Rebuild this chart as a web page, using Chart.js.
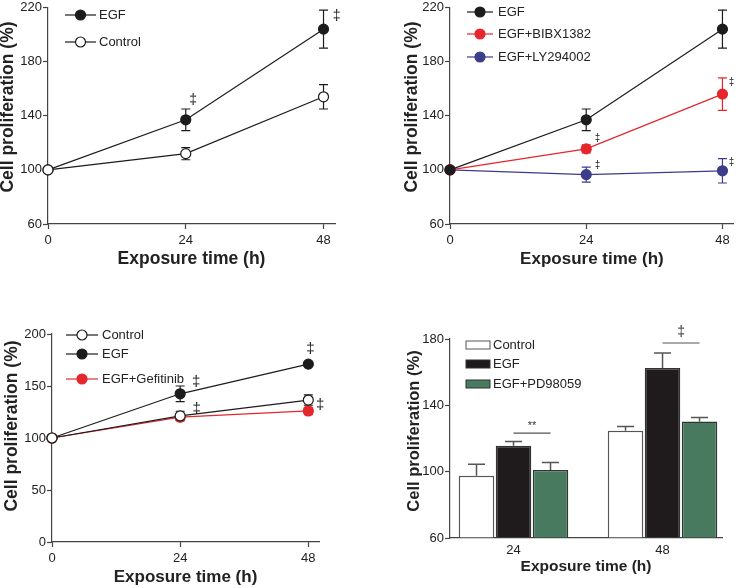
<!DOCTYPE html>
<html>
<head>
<meta charset="utf-8">
<script src="https://cdn.jsdelivr.net/npm/chart.js@4.4.1/dist/chart.umd.min.js"></script>
<style>
  body { margin: 0; background: #fff; }
  #wrap { position: relative; width: 740px; height: 588px; overflow: hidden; }
  canvas { position: absolute; }
</style>
</head>
<body>
<div id="wrap">
  <canvas id="chartA" width="370" height="290" style="left:0;top:0"></canvas>
  <canvas id="chartB" width="370" height="290" style="left:370px;top:0"></canvas>
  <canvas id="chartC" width="370" height="298" style="left:0;top:290px"></canvas>
  <canvas id="chartD" width="370" height="298" style="left:370px;top:290px"></canvas>
</div>
<script>
// ============================================================================
// DATA
// ============================================================================
const hours = [0, 24, 48];
const xTickVals = [0, 24, 48];

// panel A : EGF vs control
const aEgf = [100, 137, 204];
const aEgfErr = [0, 8, 14];
const aCtrl = [100, 112, 154];
const aCtrlErr = [0, 4.5, 9];
const aYTicks = [60, 100, 140, 180, 220];
const aMarks = [[25.3, 151.5], [50.3, 213.5]];

// panel B : inhibitors
const bEgf = [100, 137, 204];
const bEgfErr = [0, 8, 14];
const bBibx = [100, 115.5, 156];
const bBibxErr = [0, 3, 12];
const bLy = [100, 96.5, 99.3];
const bLyErr = [0, 5.5, 9];
const bYTicks = [60, 100, 140, 180, 220];
const bMarks = [[26, 123.4], [26, 103.2], [49.6, 164.9], [49.6, 105.4]];

// panel C : gefitinib
const cCtrl = [100, 121.2, 136.5];
const cCtrlErr = [0, 4.5, 5];
const cEgf = [100, 142.5, 171];
const cEgfErr = [0, 7.5, 1.5];
const cGef = [100, 120, 126];
const cGefErr = [0, 3, 3.5];
const cYTicks = [0, 50, 100, 150, 200];
const cMarks = [[27, 154.1], [27.1, 127.9], [48.4, 185.6], [50.2, 131.7]];

// panel D : PD98059 (bars)
const dGroups = [24, 48];
const dCtrl = [97.5, 124.7];
const dCtrlErr = [7, 2.5];
const dEgf = [115.7, 162.5];
const dEgfErr = [2.5, 9];
const dPd = [101, 130.2];
const dPdErr = [4.5, 2.5];
const dYTicks = [60, 100, 140, 180];
const dSigGroup = [0, 1];
const dSigLine = [123.3, 177.6];
const dSigText = ["**", "\u2021"];
const dSigTextY = [127.5, 184.2];

// ============================================================================
// STYLE + PLUGINS
// ============================================================================
const fontFam = "'Liberation Sans', Arial, sans-serif";
const axisColor = "#444";
const txtColor = "#222";
const black = "#1c1c1c";
const red = "#e5262c";
const blue = "#3c3c8a";
const green = "#477a5e";

Chart.defaults.font.family = fontFam;
Chart.defaults.color = txtColor;

// error bars (symmetric for lines, upward only for bars)
const errorBars = {
  id: "errorBars",
  beforeDatasetsDraw(chart, args, opts) {
    const ctx = chart.ctx;
    const yScale = chart.scales.y;
    chart.data.datasets.forEach((ds, di) => {
      if (!ds.errors) return;
      const meta = chart.getDatasetMeta(di);
      meta.data.forEach((el, i) => {
        const err = ds.errors[i];
        if (!err) return;
        const v = ds.data[i].y;
        const top = yScale.getPixelForValue(v + err);
        const bot = opts.upOnly ? yScale.getPixelForValue(v) : yScale.getPixelForValue(v - err);
        const cap = opts.cap || 4.5;
        ctx.save();
        ctx.strokeStyle = opts.color || ds.borderColor;
        ctx.lineWidth = opts.width || 1.2;
        ctx.beginPath();
        ctx.moveTo(el.x, top);
        ctx.lineTo(el.x, bot);
        ctx.moveTo(el.x - cap, top);
        ctx.lineTo(el.x + cap, top);
        if (!opts.upOnly) {
          ctx.moveTo(el.x - cap, bot);
          ctx.lineTo(el.x + cap, bot);
        }
        ctx.stroke();
        ctx.restore();
      });
    });
  },
};

// significance marks in data coordinates
const marks = {
  id: "marks",
  afterDraw(chart, args, opts) {
    if (!opts.points) return;
    const ctx = chart.ctx;
    ctx.save();
    ctx.font = `${opts.size}px ${fontFam}`;
    ctx.fillStyle = txtColor;
    ctx.textAlign = "center";
    ctx.textBaseline = "middle";
    opts.points.forEach(([x, y]) => {
      ctx.fillText("\u2021", chart.scales.x.getPixelForValue(x), chart.scales.y.getPixelForValue(y));
    });
    ctx.restore();
  },
};

// legend inside the plot area
const insideLegend = {
  id: "insideLegend",
  afterDraw(chart, args, opts) {
    if (!opts.rows) return;
    const ctx = chart.ctx;
    ctx.save();
    chart.data.datasets.forEach((ds, i) => {
      const y = opts.rows[i];
      if (opts.kind === "bar") {
        ctx.fillStyle = ds.backgroundColor;
        ctx.fillRect(opts.x1, y - 4, opts.x2 - opts.x1, 8);
        ctx.strokeStyle = ds.borderColor;
        ctx.lineWidth = 1;
        ctx.strokeRect(opts.x1, y - 4, opts.x2 - opts.x1, 8);
      } else {
        ctx.strokeStyle = ds.borderColor;
        ctx.lineWidth = ds.borderWidth;
        ctx.beginPath();
        ctx.moveTo(opts.x1, y);
        ctx.lineTo(opts.x2, y);
        ctx.stroke();
        ctx.beginPath();
        ctx.arc((opts.x1 + opts.x2) / 2, y, ds.pointRadius, 0, Math.PI * 2);
        ctx.fillStyle = ds.pointBackgroundColor;
        ctx.fill();
        ctx.lineWidth = ds.pointBorderWidth;
        ctx.strokeStyle = ds.pointBorderColor;
        ctx.stroke();
      }
      ctx.font = `13px ${fontFam}`;
      ctx.fillStyle = txtColor;
      ctx.textAlign = "left";
      ctx.textBaseline = "middle";
      ctx.fillText(ds.label, opts.tx, y);
    });
    ctx.restore();
  },
};

// rotated y title (sits a bit above the axis centre in the figure)
const yTitle = {
  id: "yTitle",
  afterDraw(chart, args, opts) {
    if (!opts.text) return;
    const ctx = chart.ctx;
    ctx.save();
    ctx.translate(opts.x, opts.y);
    ctx.rotate(-Math.PI / 2);
    ctx.font = `bold ${opts.size}px ${fontFam}`;
    ctx.fillStyle = txtColor;
    ctx.textAlign = "center";
    ctx.textBaseline = "middle";
    ctx.fillText(opts.text, 0, 0);
    ctx.restore();
  },
};

// bracket lines between bars (panel D)
const sigLines = {
  id: "sigLines",
  afterDraw(chart, args, opts) {
    if (!opts.groups) return;
    const ctx = chart.ctx;
    const yScale = chart.scales.y;
    ctx.save();
    opts.groups.forEach((g, k) => {
      const x1 = chart.getDatasetMeta(1).data[g].x;
      const x2 = chart.getDatasetMeta(2).data[g].x;
      const yl = yScale.getPixelForValue(opts.lines[k]);
      ctx.strokeStyle = "#555";
      ctx.lineWidth = 1.2;
      ctx.beginPath();
      ctx.moveTo(x1, yl);
      ctx.lineTo(x2, yl);
      ctx.stroke();
      ctx.font = `${opts.texts[k] === "**" ? 11 : 14}px ${fontFam}`;
      ctx.fillStyle = "#333";
      ctx.textAlign = "center";
      ctx.textBaseline = "middle";
      ctx.fillText(opts.texts[k], (x1 + x2) / 2, yScale.getPixelForValue(opts.textY[k]));
    });
    ctx.restore();
  },
};

Chart.register(errorBars, marks, insideLegend, yTitle, sigLines);

// ============================================================================
// HELPERS
// ============================================================================
function scaleBase(tickVals, pad) {
  return {
    afterBuildTicks: (s) => {
      s.ticks = tickVals.map((v) => ({ value: v }));
    },
    border: { color: axisColor, width: 1.2 },
    grid: { drawOnChartArea: false, color: axisColor, tickLength: 5, tickWidth: 1.2 },
    ticks: { color: txtColor, font: { size: 13, lineHeight: 1 }, padding: pad },
  };
}

function lineSet(label, vals, errs, color, fill, order) {
  return {
    label,
    data: hours.map((h, i) => ({ x: h, y: vals[i] })),
    errors: errs,
    borderColor: color,
    borderWidth: 1.2,
    pointRadius: 5,
    pointBorderWidth: 1.2,
    pointBackgroundColor: fill,
    pointBorderColor: color,
    tension: 0,
    clip: false,
    order: order || 0,
  };
}

function lineOptions(p) {
  return {
    responsive: false,
    animation: false,
    events: [],
    layout: { padding: p.pad },
    scales: {
      x: {
        type: "linear",
        min: 0,
        max: p.xMax,
        ...scaleBase(xTickVals, 5),
        afterFit: (s) => {
          s.height = p.xH;
          s.paddingRight = 0;
        },
        title: {
          display: true,
          text: "Exposure time (h)",
          font: { size: p.xTitleSize, weight: "bold" },
          color: txtColor,
          padding: 0,
        },
      },
      y: {
        min: p.yTicks[0],
        max: p.yTicks[p.yTicks.length - 1],
        ...scaleBase(p.yTicks, 1),
        afterFit: (s) => {
          s.width = p.yW;
        },
      },
    },
    plugins: {
      legend: { display: false },
      tooltip: { enabled: false },
      errorBars: { cap: 4.5 },
      marks: { points: p.marks, size: p.markSize },
      insideLegend: p.legend,
      yTitle: p.yTitle,
    },
  };
}

// ============================================================================
// PANEL A
// ============================================================================
new Chart(document.getElementById("chartA"), {
  type: "line",
  data: {
    datasets: [
      lineSet("EGF", aEgf, aEgfErr, black, black, 1),
      lineSet("Control", aCtrl, aCtrlErr, black, "#fff", 0),
    ],
  },
  options: lineOptions({
    pad: { left: 0, top: 7, right: 35, bottom: 20 },
    xMax: 50, xH: 46, yW: 48, xTitleSize: 17.5,
    yTicks: aYTicks,
    marks: aMarks, markSize: 14,
    legend: { x1: 65, x2: 96, tx: 99, rows: [15, 42] },
    yTitle: { text: "Cell proliferation (%)", x: 8, y: 107, size: 17.5 },
  }),
});

// ============================================================================
// PANEL B
// ============================================================================
new Chart(document.getElementById("chartB"), {
  type: "line",
  data: {
    datasets: [
      lineSet("EGF", bEgf, bEgfErr, black, black),
      lineSet("EGF+BIBX1382", bBibx, bBibxErr, red, red),
      lineSet("EGF+LY294002", bLy, bLyErr, blue, blue),
    ],
  },
  options: lineOptions({
    pad: { left: 0, top: 7, right: 1, bottom: 20 },
    xMax: 50, xH: 46, yW: 80, xTitleSize: 17,
    yTicks: bYTicks,
    marks: bMarks, markSize: 10,
    legend: { x1: 97, x2: 123, tx: 128, rows: [12, 34, 57] },
    yTitle: { text: "Cell proliferation (%)", x: 42, y: 107, size: 17.5 },
  }),
});

// ============================================================================
// PANEL C
// ============================================================================
new Chart(document.getElementById("chartC"), {
  type: "line",
  data: {
    datasets: [
      lineSet("Control", cCtrl, cCtrlErr, black, "#fff"),
      lineSet("EGF", cEgf, cEgfErr, black, black),
      lineSet("EGF+Gefitinib", cGef, cGefErr, red, red),
    ],
  },
  options: lineOptions({
    pad: { left: 0, top: 44, right: 51, bottom: 0 },
    xMax: 50, xH: 46, yW: 52, xTitleSize: 17,
    yTicks: cYTicks,
    marks: cMarks, markSize: 15,
    legend: { x1: 66, x2: 98, tx: 102, rows: [45, 64, 89] },
    yTitle: { text: "Cell proliferation (%)", x: 12, y: 136, size: 17.5 },
  }),
});

// ============================================================================
// PANEL D (bars)
// ============================================================================
function barSet(label, vals, errs, fill, border) {
  return {
    label,
    data: dGroups.map((g, i) => ({ x: g, y: vals[i] })),
    errors: errs,
    backgroundColor: fill,
    borderColor: border,
    borderWidth: 1.5,
    base: 60,
    categoryPercentage: 0.745,
    barPercentage: 0.96,
  };
}

new Chart(document.getElementById("chartD"), {
  type: "bar",
  data: {
    datasets: [
      barSet("Control", dCtrl, dCtrlErr, "#ffffff", "#555"),
      barSet("EGF", dEgf, dEgfErr, "#1f1b1d", "#333"),
      barSet("EGF+PD98059", dPd, dPdErr, green, "#333"),
    ],
  },
  options: {
    responsive: false,
    animation: false,
    events: [],
    layout: { padding: { left: 0, top: 49, right: 18, bottom: 12 } },
    scales: {
      x: {
        type: "linear",
        min: 13.77,
        max: 57.58,
        offset: false,
        ...scaleBase(dGroups, 6),
        grid: { drawOnChartArea: false, drawTicks: false, offset: false },
        afterFit: (s) => {
          s.height = 38;
          s.paddingRight = 0;
        },
        title: {
          display: true,
          text: "Exposure time (h)",
          font: { size: 15.5, weight: "bold" },
          color: txtColor,
          padding: 0,
        },
      },
      y: {
        min: 60,
        max: 180,
        ...scaleBase(dYTicks, 1),
        afterFit: (s) => {
          s.width = 80;
        },
      },
    },
    plugins: {
      legend: { display: false },
      tooltip: { enabled: false },
      errorBars: { upOnly: true, cap: 8.5, color: "#555", width: 1.5 },
      insideLegend: { kind: "bar", x1: 96, x2: 120, tx: 123, rows: [55, 74, 94] },
      yTitle: { text: "Cell proliferation (%)", x: 44, y: 141, size: 16.5 },
      sigLines: { groups: dSigGroup, lines: dSigLine, texts: dSigText, textY: dSigTextY },
    },
  },
});
</script>
</body>
</html>
